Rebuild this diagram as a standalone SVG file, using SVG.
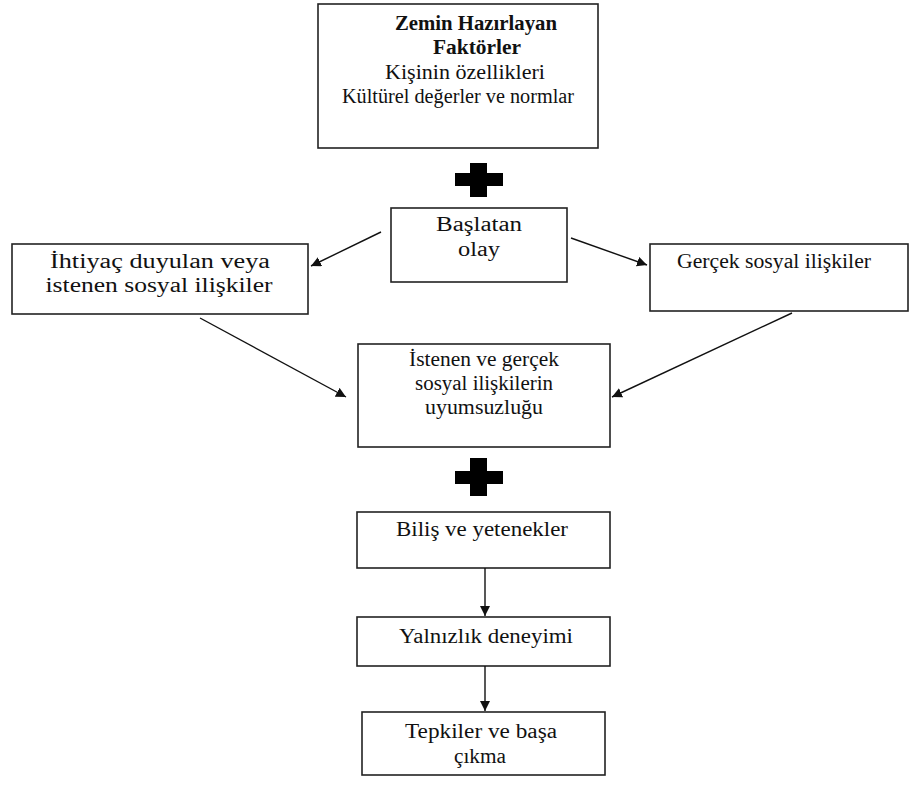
<svg xmlns="http://www.w3.org/2000/svg" width="921" height="785" viewBox="0 0 921 785">
<style>
.box{fill:#fff;stroke:#222;stroke-width:1.6}
.t{font-family:"Liberation Serif","Times New Roman",serif;font-size:20px;fill:#111;text-anchor:middle}
.b{font-weight:bold}
.c{stroke:#111;stroke-width:1.4;fill:none}
.plus{fill:#000}
</style>
<defs>
<marker id="ah" viewBox="0 0 10 10" refX="10" refY="5" markerWidth="10" markerHeight="10" markerUnits="userSpaceOnUse" orient="auto">
<path d="M0,0 L10,5 L0,10 z" fill="#111"/>
</marker>
</defs>
<rect width="921" height="785" fill="#fff"/>
<g id="zemin">
<rect class="box" x="318" y="4" width="280" height="144"/>
<text class="t b" x="476" y="30" textLength="162" lengthAdjust="spacingAndGlyphs">Zemin Hazırlayan</text>
<text class="t b" x="477" y="54" textLength="88" lengthAdjust="spacingAndGlyphs">Faktörler</text>
<text class="t" x="465" y="79" textLength="160" lengthAdjust="spacingAndGlyphs">Kişinin özellikleri</text>
<text class="t" x="458" y="103" textLength="232" lengthAdjust="spacingAndGlyphs">Kültürel değerler ve normlar</text>
</g>
<g id="plus1"><path class="plus" d="M470,163 H487 V173 H503 V186 H487 V197 H470 V186 H455 V173 H470 Z"/></g>
<g id="baslatan">
<rect class="box" x="391" y="208" width="176" height="74"/>
<text class="t" x="479" y="231" textLength="86" lengthAdjust="spacingAndGlyphs">Başlatan</text>
<text class="t" x="479" y="256" textLength="42" lengthAdjust="spacingAndGlyphs">olay</text>
</g>
<g id="ihtiyac">
<rect class="box" x="12" y="244" width="296" height="70"/>
<text class="t" x="160" y="268" textLength="220" lengthAdjust="spacingAndGlyphs">İhtiyaç duyulan veya</text>
<text class="t" x="159" y="292" textLength="227" lengthAdjust="spacingAndGlyphs">istenen sosyal ilişkiler</text>
</g>
<g id="gercek">
<rect class="box" x="650" y="244" width="258" height="67"/>
<text class="t" x="774" y="268" textLength="194" lengthAdjust="spacingAndGlyphs">Gerçek sosyal ilişkiler</text>
</g>
<g id="uyumsuzluk">
<rect class="box" x="358" y="344" width="252" height="103"/>
<text class="t" x="484" y="366" textLength="150" lengthAdjust="spacingAndGlyphs">İstenen ve gerçek</text>
<text class="t" x="484" y="390" textLength="138" lengthAdjust="spacingAndGlyphs">sosyal ilişkilerin</text>
<text class="t" x="484" y="414" textLength="118" lengthAdjust="spacingAndGlyphs">uyumsuzluğu</text>
</g>
<g id="plus2"><path class="plus" d="M470,458 H487 V471 H503 V484 H487 V496 H470 V484 H455 V471 H470 Z"/></g>
<g id="bilis">
<rect class="box" x="357" y="512" width="253" height="56"/>
<text class="t" x="482" y="536" textLength="172" lengthAdjust="spacingAndGlyphs">Biliş ve yetenekler</text>
</g>
<g id="yalnizlik">
<rect class="box" x="357" y="617" width="253" height="49"/>
<text class="t" x="486" y="643" textLength="174" lengthAdjust="spacingAndGlyphs">Yalnızlık deneyimi</text>
</g>
<g id="tepkiler">
<rect class="box" x="362" y="712" width="243" height="63"/>
<text class="t" x="481" y="738" textLength="152" lengthAdjust="spacingAndGlyphs">Tepkiler ve başa</text>
<text class="t" x="480" y="763" textLength="52" lengthAdjust="spacingAndGlyphs">çıkma</text>
</g>
<g id="connectors">
<line class="c" x1="381" y1="232" x2="311" y2="266" marker-end="url(#ah)"/>
<line class="c" x1="571" y1="238" x2="647" y2="265" marker-end="url(#ah)"/>
<line class="c" x1="200" y1="318" x2="346" y2="397" marker-end="url(#ah)"/>
<line class="c" x1="792" y1="313" x2="612" y2="397" marker-end="url(#ah)"/>
<line class="c" x1="485" y1="568" x2="485" y2="616" marker-end="url(#ah)"/>
<line class="c" x1="485" y1="666" x2="485" y2="711" marker-end="url(#ah)"/>
</g>
</svg>
